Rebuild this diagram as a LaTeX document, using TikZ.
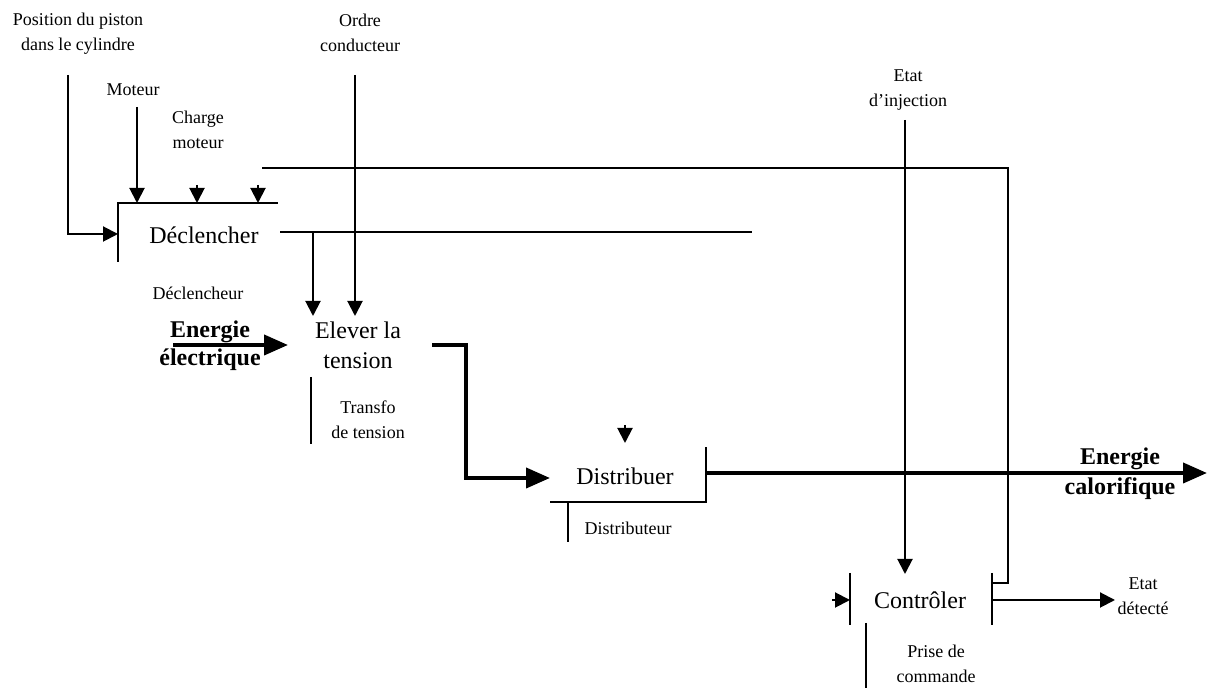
\documentclass[tikz,border=0pt]{standalone}
\usepackage{fontspec}
\setmainfont{Liberation Serif}
\usepackage{tikz}
\usetikzlibrary{arrows.meta}
\tikzset{
  arr/.style={-{Triangle[length=7.5pt,width=7.5pt]}, line width=1pt, draw=black},
  tarr/.style={-{Triangle[length=12pt,width=10pt]}, line width=2pt, draw=black},
  bar/.style={line width=1pt, draw=black},
  fct/.style={font=\fontsize{12}{15}\selectfont, align=center, inner sep=0pt},
  lab/.style={font=\fontsize{9}{12.5}\selectfont, align=center, inner sep=0pt},
  blab/.style={font=\bfseries\fontsize{12}{13}\selectfont, align=center, inner sep=0pt}
}

\begin{document}
\begin{tikzpicture}[x=0.5pt,y=-0.5pt]
  \useasboundingbox (0,0) rectangle (1212,688);

  % fonctions
  \node[fct] (dec) at (204,235) {Déclencher};
  \node[fct] (elev) at (358,345) {Elever la\\tension};
  \node[fct] (dist) at (625,476) {Distribuer};
  \node[fct] (ctrl) at (920,600) {Contrôler};

  % donnees et supports
  \node[lab] (pos) at (78,34) {Position du piston\\dans le cylindre};
  \node[lab] (mot) at (133,90) {Moteur};
  \node[lab] (chg) at (198,130) {Charge\\moteur};
  \node[lab] (ord) at (360,33) {Ordre\\conducteur};
  \node[lab] (etat) at (908,90) {Etat\\d'injection};
  \node[lab] (decl) at (198,293) {Déclencheur};
  \node[blab] (ee) at (210,346) {Energie\\[1pt]électrique};
  \node[lab] (trf) at (368,420) {Transfo\\de tension};
  \node[lab] (dtr) at (628,528) {Distributeur};
  \node[blab] (ec) at (1120,474) {Energie\\[2pt]calorifique};
  \node[lab] (edt) at (1143,596) {Etat\\détecté};
  \node[lab] (pdc) at (936,664) {Prise de\\commande};

  % reperes
  \coordinate (decTL) at (118,203);
  \coordinate (decBL) at (118,262);
  \coordinate (decTR) at (278,203);
  \coordinate (decE) at (280,232);
  \coordinate (elevE) at (432,345);
  \coordinate (distW) at (550,478);
  \coordinate (distBL) at (550,502);
  \coordinate (distBR) at (706,502);
  \coordinate (distTR) at (706,447);
  \coordinate (ctrlTL) at (850,573);
  \coordinate (ctrlBL) at (850,625);
  \coordinate (ctrlTR) at (992,573);
  \coordinate (ctrlBR) at (992,625);

  % cadres
  \draw[bar] (decBL) -- (decTL) -- (decTR);
  \draw[bar] (distBL) -- (distBR) -- (distTR);
  \draw[bar] (ctrlTL) -- (ctrlBL);
  \draw[bar] (ctrlTR) -- (ctrlBR);

  % Declencher
  \draw[arr] (68,75) |- (decTL |- 0,234);
  \draw[arr] (137,107) -- (decTL -| 137,0);
  \draw[arr] (197,185) -- (197,203);
  \draw[arr] (258,185) -- (258,203);
  \draw[bar] (decE) -- (752,232);
  \draw[arr] (313,232) -- (313,316);
  \draw[arr] (355,75) -- (355,316);
  \draw[bar] (ctrlTR |- 0,583) -| (1008,168) -- (262,168);
  \draw[bar] (311,377) -- (311,444);

  % Elever la tension
  \draw[tarr] (173,345) -- (288,345);
  \draw[tarr] (elevE) -| (466,478) -- (distW);

  % Distribuer
  \draw[arr] (625,425) -- (625,443);
  \draw[bar] (568,502) -- (568,542);
  \draw[tarr] (distBR |- 0,473) -- (1207,473);

  % Controler
  \draw[arr] (905,120) -- (905,574);
  \draw[arr] (832,600) -- (ctrlTL |- 0,600);
  \draw[arr] (ctrlTR |- 0,600) -- (1115,600);
  \draw[bar] (866,623) -- (866,688);
\end{tikzpicture}
\end{document}
